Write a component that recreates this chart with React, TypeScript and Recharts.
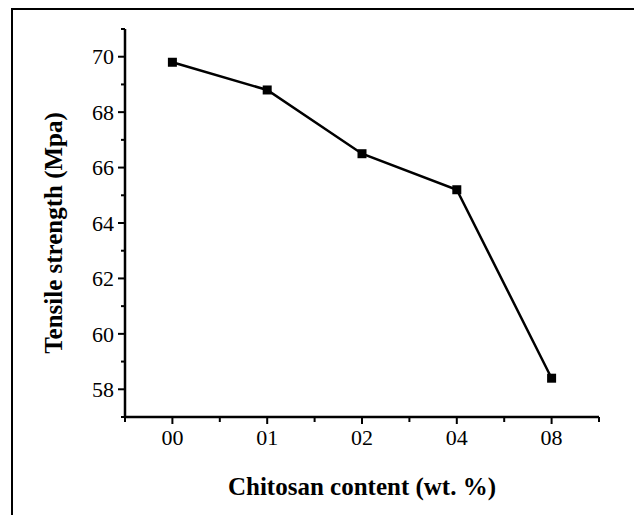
import React from "react";
import { LineChart, Line, XAxis, YAxis } from "recharts";

const categories = ["00", "01", "02", "04", "08"];
const tensile = [69.8, 68.8, 66.5, 65.2, 58.4];
const xTicks = [-0.5, 0, 0.5, 1, 1.5, 2, 2.5, 3, 3.5, 4, 4.5];
const yTicks = [57, 58, 59, 60, 61, 62, 63, 64, 65, 66, 67, 68, 69, 70, 71];

const data = categories.map((c, i) => ({ idx: i, label: c, value: tensile[i] }));

const FONT = '"Times New Roman", "Liberation Serif", serif';

const XTick = (props: any) => {
  const { x, y, payload } = props;
  const v = payload.value as number;
  const major = Number.isInteger(v);
  return (
    <g>
      <line x1={x} y1={y} x2={x} y2={y + (major ? 7 : 5)} stroke="#000" strokeWidth={2} />
      {major && (
        <text x={x} y={y + 28} textAnchor="middle" fontSize={22} fontFamily={FONT} fill="#000">
          {categories[v]}
        </text>
      )}
    </g>
  );
};

const YTick = (props: any) => {
  const { x, y, payload } = props;
  const v = payload.value as number;
  const major = v % 2 === 0;
  return (
    <g>
      <line x1={x} y1={y} x2={x - (major ? 7 : 4)} y2={y} stroke="#000" strokeWidth={2} />
      {major && (
        <text x={x - 11} y={y} dy="0.35em" textAnchor="end" fontSize={22} fontFamily={FONT} fill="#000">
          {v}
        </text>
      )}
    </g>
  );
};

const SquareDot = (props: any) => {
  const { cx, cy, index } = props;
  return <rect key={`d${index}`} x={cx - 4.5} y={cy - 4.5} width={9} height={9} fill="#000" />;
};

const XTitle = (props: any) => {
  const { x, y, width } = props.viewBox;
  return (
    <text x={x + width / 2} y={y + 78} textAnchor="middle" fontSize={25} fontWeight="bold" fontFamily={FONT} fill="#000">
      Chitosan content (wt. %)
    </text>
  );
};

const YTitle = (props: any) => {
  const { x, y, height } = props.viewBox;
  const cx = x - 3;
  const cy = y + height / 2 + 10;
  return (
    <text
      x={cx}
      y={cy}
      transform={`rotate(-90, ${cx}, ${cy})`}
      textAnchor="middle"
      fontSize={25}
      fontWeight="bold"
      fontFamily={FONT}
      fill="#000"
    >
      Tensile strength (Mpa)
    </text>
  );
};

export default function App() {
  return (
    <div
      style={{
        position: "absolute",
        left: 0,
        top: 0,
        width: 634,
        height: 515,
        overflow: "hidden",
        background: "#fff",
      }}
    >
      {/* outer frame, cut off at right and bottom like the source */}
      <div
        style={{
          position: "absolute",
          left: 11,
          top: 8,
          width: 700,
          height: 600,
          borderLeft: "2px solid #000",
          borderTop: "2px solid #000",
        }}
      />
      <div style={{ position: "absolute", left: 0, top: 0 }}>
        <LineChart width={634} height={515} data={data} margin={{ top: 29, right: 35, left: 65, bottom: 58 }}>
          <XAxis
            dataKey="idx"
            type="number"
            domain={[-0.5, 4.5]}
            ticks={xTicks}
            interval={0}
            height={40}
            axisLine={{ stroke: "#000", strokeWidth: 2.5 }}
            tickLine={false}
            tickSize={0}
            tickMargin={0}
            tick={<XTick />}
            label={{ content: XTitle }}
          />
          <YAxis
            type="number"
            domain={[57, 71]}
            ticks={yTicks}
            interval={0}
            width={60}
            axisLine={{ stroke: "#000", strokeWidth: 2.5 }}
            tickLine={false}
            tickSize={0}
            tickMargin={0}
            tick={<YTick />}
            label={{ content: YTitle }}
          />
          <Line
            dataKey="value"
            stroke="#000"
            strokeWidth={2.5}
            dot={SquareDot}
            activeDot={false}
            isAnimationActive={false}
          />
        </LineChart>
      </div>
    </div>
  );
}
